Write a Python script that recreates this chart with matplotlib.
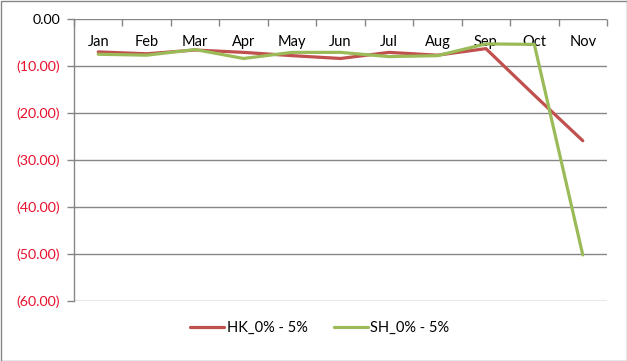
import matplotlib
matplotlib.use("Agg")
import matplotlib.pyplot as plt
from matplotlib.patches import Rectangle

months = ["Jan", "Feb", "Mar", "Apr", "May", "Jun", "Jul", "Aug", "Sep", "Oct", "Nov"]
hk = [-7.0, -7.4, -6.6, -7.1, -7.8, -8.4, -7.1, -7.7, -6.3, -16.2, -25.9]
sh = [-7.5, -7.7, -6.5, -8.4, -7.1, -7.1, -8.0, -7.8, -5.3, -5.4, -50.2]
yticks = [0, -10, -20, -30, -40, -50, -60]

plt.rcParams['font.family'] = ['Lato', 'DejaVu Sans']

fig = plt.figure(figsize=(6.27, 3.61), dpi=100)
ax = fig.add_axes([74/627, 1-301/361, (607-74)/627, (301-19)/361])

x = list(range(len(months)))
ax.plot(x, hk, color="#C0504D", lw=2.3, label="HK_0% - 5%", solid_capstyle="round", zorder=3)
ax.plot(x, sh, color="#9BBB59", lw=2.3, label="SH_0% - 5%", solid_capstyle="round", zorder=4)

ax.set_xlim(-0.5, len(months) - 0.5)
ax.set_ylim(-60, 0)
ax.set_yticks(yticks)

def fmt(v):
    return "0.00" if v == 0 else "(%.2f)" % abs(v)

ax.set_yticklabels([fmt(v) for v in yticks], fontsize=10.3)
for lab, v in zip(ax.get_yticklabels(), yticks):
    lab.set_color("black" if v == 0 else "#E8112D")

for v in yticks:
    ax.axhline(v, color="#868686", lw=1.0, zorder=1)

ax.set_xticks(x)
ax.set_xticklabels(months, fontsize=10.5)
ax.set_xticks([i - 0.5 for i in range(len(months) + 1)], minor=True)
ax.tick_params(axis='x', which='major', top=True, bottom=False, labeltop=True, labelbottom=False,
               length=0, pad=-21.5)
ax.tick_params(axis='x', which='minor', top=True, bottom=False, direction='in', length=5,
               color="#868686", width=1.0)
ax.tick_params(axis='y', which='major', direction='out', length=5, color="#868686", width=1.0, pad=5)

for s in ["right", "bottom", "top"]:
    ax.spines[s].set_visible(False)
ax.spines["left"].set_color("#868686")
ax.spines["left"].set_linewidth(1.0)

leg = fig.legend(loc="center", bbox_to_anchor=(320/627, 1-328/361), ncol=2, frameon=False,
                 fontsize=10.5, handlelength=2.3, handletextpad=0.2, columnspacing=1.8)

fig.patches.append(Rectangle((0.5/627, 0.5/361), 1-1/627, 1-1/361, transform=fig.transFigure,
                             fill=False, edgecolor="#868686", lw=1.0))

fig.savefig("out.png", dpi=100)
